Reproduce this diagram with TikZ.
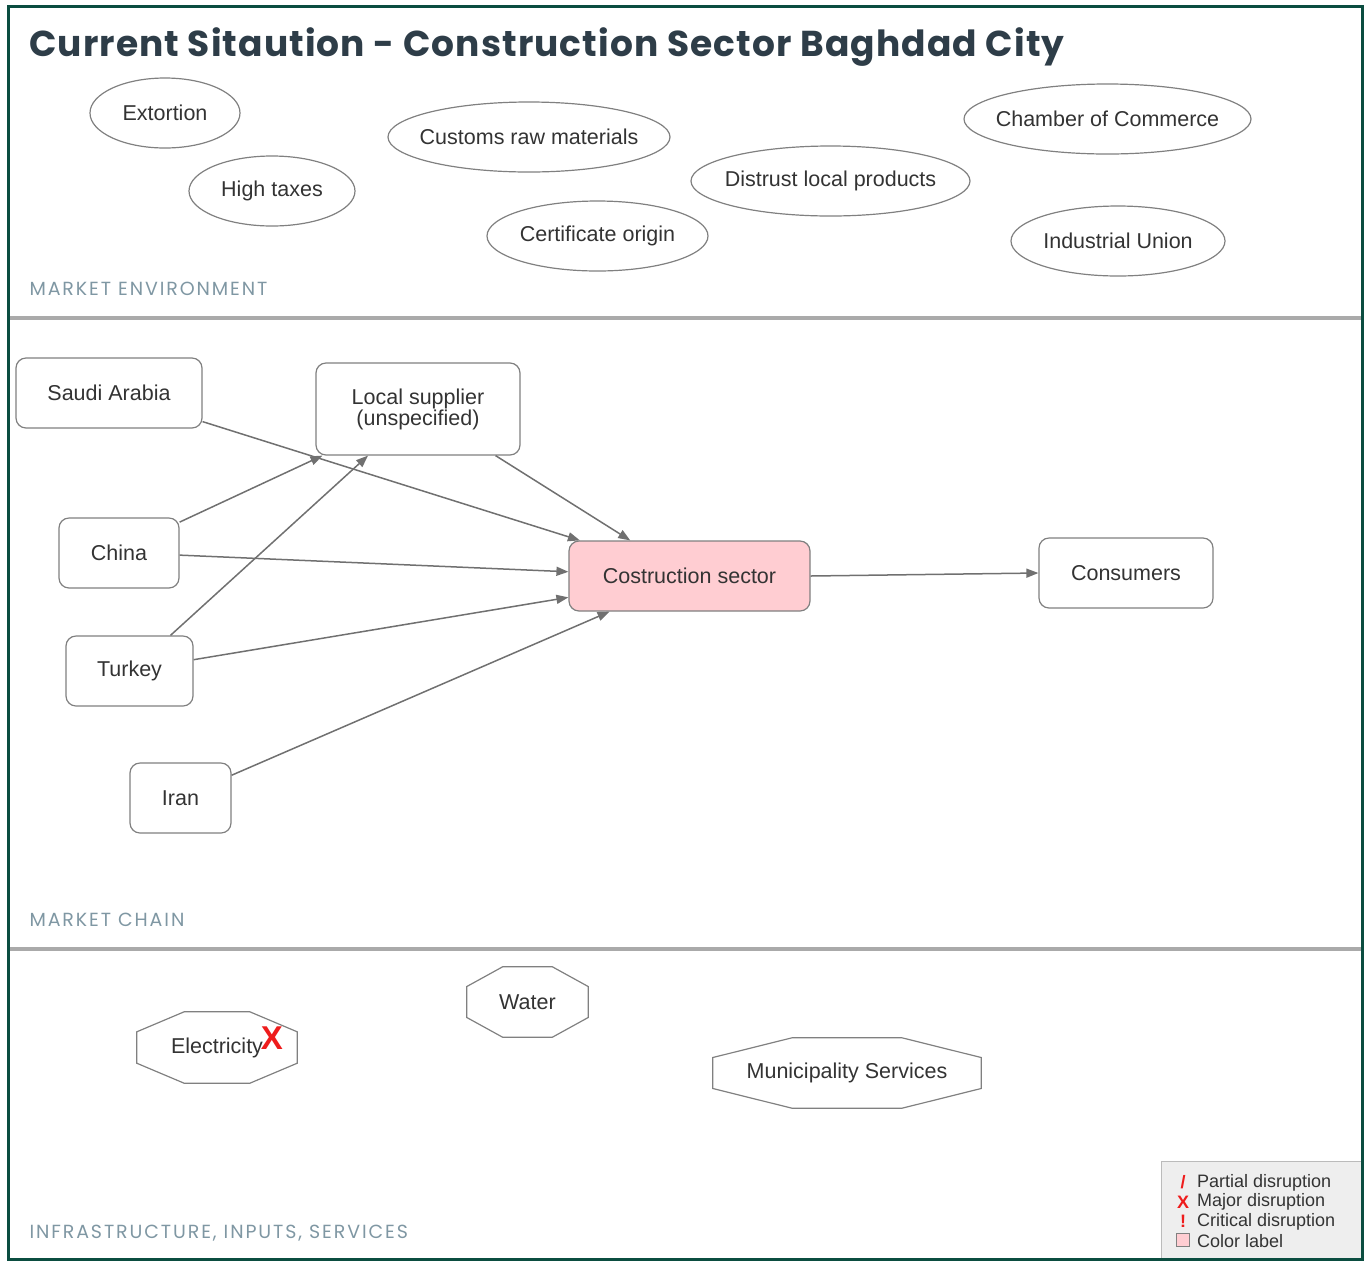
\documentclass[tikz,border=0pt]{standalone}
\usepackage{fontspec}
\setmainfont{Liberation Sans}
\newfontfamily\headfont{Poppins}[LetterSpace=3]
\newfontfamily\bandfont{Poppins}[LetterSpace=10]
\usetikzlibrary{shapes.geometric,arrows.meta,calc}

\definecolor{framegreen}{HTML}{0B4D40}
\definecolor{rulegray}{HTML}{AAAAAA}
\definecolor{headslate}{HTML}{2E3D48}
\definecolor{bandblue}{HTML}{7F97A3}
\definecolor{textgray}{HTML}{333333}
\definecolor{linegray}{HTML}{808080}
\definecolor{arrowgray}{HTML}{707070}
\definecolor{labelpink}{HTML}{FFCDD2}
\definecolor{alertred}{HTML}{EE1C1C}
\definecolor{legendfill}{HTML}{EEEEEE}

\tikzset{
    txt/.style={font=\fontsize{21.5}{21}\selectfont, text=textgray},
    factor/.style={ellipse, draw=linegray, line width=1.2pt, inner xsep=-40pt, inner ysep=0pt, minimum height=70pt, txt},
    actor/.style={rectangle, rounded corners=10pt, draw=linegray, line width=1.2pt, inner sep=0pt, minimum height=70pt, txt},
    infra/.style={rectangle, inner sep=0pt, minimum height=70pt, txt},
    octline/.style={draw=linegray, line width=1.2pt},
    link/.style={draw=arrowgray, line width=1.5pt, -{Triangle[length=12pt,width=9pt]}},
    band/.style={anchor=west, text=bandblue, font=\bandfont\fontsize{19}{19}\selectfont},
    legend/.style={anchor=west, inner sep=0pt, font=\fontsize{18}{18}\selectfont, text=textgray},
    flag/.style={inner sep=0pt, font=\bfseries\fontsize{18}{18}\selectfont, text=alertred},
}

\begin{document}
\begin{tikzpicture}[x=1pt, y=-1pt]
        \useasboundingbox (0, 0) rectangle (1365, 1262);

        % frame and the three bands
        \draw[rulegray, line width=4pt] (10, 318) -- (1362, 318);
        \draw[rulegray, line width=4pt] (10, 949) -- (1362, 949);
        \node[anchor=base west, inner sep=0pt, text=headslate, font=\headfont\bfseries\fontsize{36}{36}\selectfont] (title) at (29, 56) {Current Sitaution - Construction Sector Baghdad City};
        \node[band] (env) at (26, 289) {MARKET ENVIRONMENT};
        \node[band] (chain) at (26, 920) {MARKET CHAIN};
        \node[band] (infr) at (26, 1233) {INFRASTRUCTURE, INPUTS, SERVICES};

        % market environment
        \node[factor, minimum width=150pt] (ext) at (165, 113) {Extortion};
        \node[factor, minimum width=166pt] (tax) at (272, 191) {High taxes};
        \node[factor, minimum width=282pt] (cust) at (529, 137) {Customs raw materials};
        \node[factor, minimum width=221pt] (cert) at (597.5, 236) {Certificate origin};
        \node[factor, minimum width=279pt] (dist) at (830.5, 181) {Distrust local products};
        \node[factor, minimum width=287pt] (cham) at (1107.5, 119) {Chamber of Commerce};
        \node[factor, minimum width=214pt] (union) at (1118, 241) {Industrial Union};

        % market chain
        \node[actor, minimum width=186pt] (sa) at (109, 393) {Saudi Arabia};
        \node[actor, minimum width=204pt, minimum height=92pt, align=center] (ls) at (418, 409) {Local supplier\\(unspecified)};
        \node[actor, minimum width=120pt] (ch) at (119, 553) {China};
        \node[actor, minimum width=127pt] (tk) at (129.5, 671) {Turkey};
        \node[actor, minimum width=101pt] (ir) at (180.5, 798) {Iran};
        \node[actor, minimum width=241pt, fill=labelpink] (cs) at (689.5, 576) {Costruction sector};
        \node[actor, minimum width=174pt] (co) at (1126, 573) {Consumers};

        \draw[link] (sa.-17) -- (cs.162);
        \draw[link] (ls.-31) -- (cs.149);
        \draw[link] (ch.27) -- (ls.-154);
        \draw[link] (ch.-2) -- (cs.178);
        \draw[link] (tk.41) -- (ls.-137);
        \draw[link] (tk.10) -- (cs.-170);
        \draw[link] (ir.24) -- (cs.-156);
        \draw[link] (cs.east) -- (co.west);

        % infrastructure, inputs, services
        \node[infra, minimum width=160pt, minimum height=71pt] (elec) at (217, 1047.5) {Electricity};
        \node[infra, minimum width=121pt] (water) at (527.5, 1002) {Water};
        \node[infra, minimum width=268pt] (muni) at (847, 1073) {Municipality Services};
        \foreach \n in {elec, water, muni}
            \draw[octline] ($(\n.north west)!0.295!(\n.north east)$) -- ($(\n.north west)!0.705!(\n.north east)$)
                -- ($(\n.north east)!0.28!(\n.south east)$) -- ($(\n.north east)!0.72!(\n.south east)$)
                -- ($(\n.south west)!0.705!(\n.south east)$) -- ($(\n.south west)!0.295!(\n.south east)$)
                -- ($(\n.north west)!0.72!(\n.south west)$) -- ($(\n.north west)!0.28!(\n.south west)$) -- cycle;
        \node[inner sep=0pt, text=alertred, font=\bfseries\fontsize{33}{33}\selectfont] (elecx) at (272, 1038) {X};

        % legend
        \draw[draw=rulegray!80, fill=legendfill, line width=1pt] (1161, 1161) rectangle (1362, 1259);
        \node[flag] (f1) at (1183, 1182) {/};
        \node[legend] (l1) at (1197, 1183) {Partial disruption};
        \node[flag] (f2) at (1183, 1202) {X};
        \node[legend] (l2) at (1197, 1202) {Major disruption};
        \node[flag] (f3) at (1183, 1221) {!};
        \node[legend] (l3) at (1197, 1222) {Critical disruption};
        \node[draw=linegray, fill=labelpink, line width=1pt, minimum size=13pt, inner sep=0pt] (f4) at (1183, 1240) {};
        \node[legend] (l4) at (1197, 1241) {Color label};

        \draw[framegreen, line width=3pt] (8, 6) rectangle (1362, 1259);
    \end{tikzpicture}
\end{document}
